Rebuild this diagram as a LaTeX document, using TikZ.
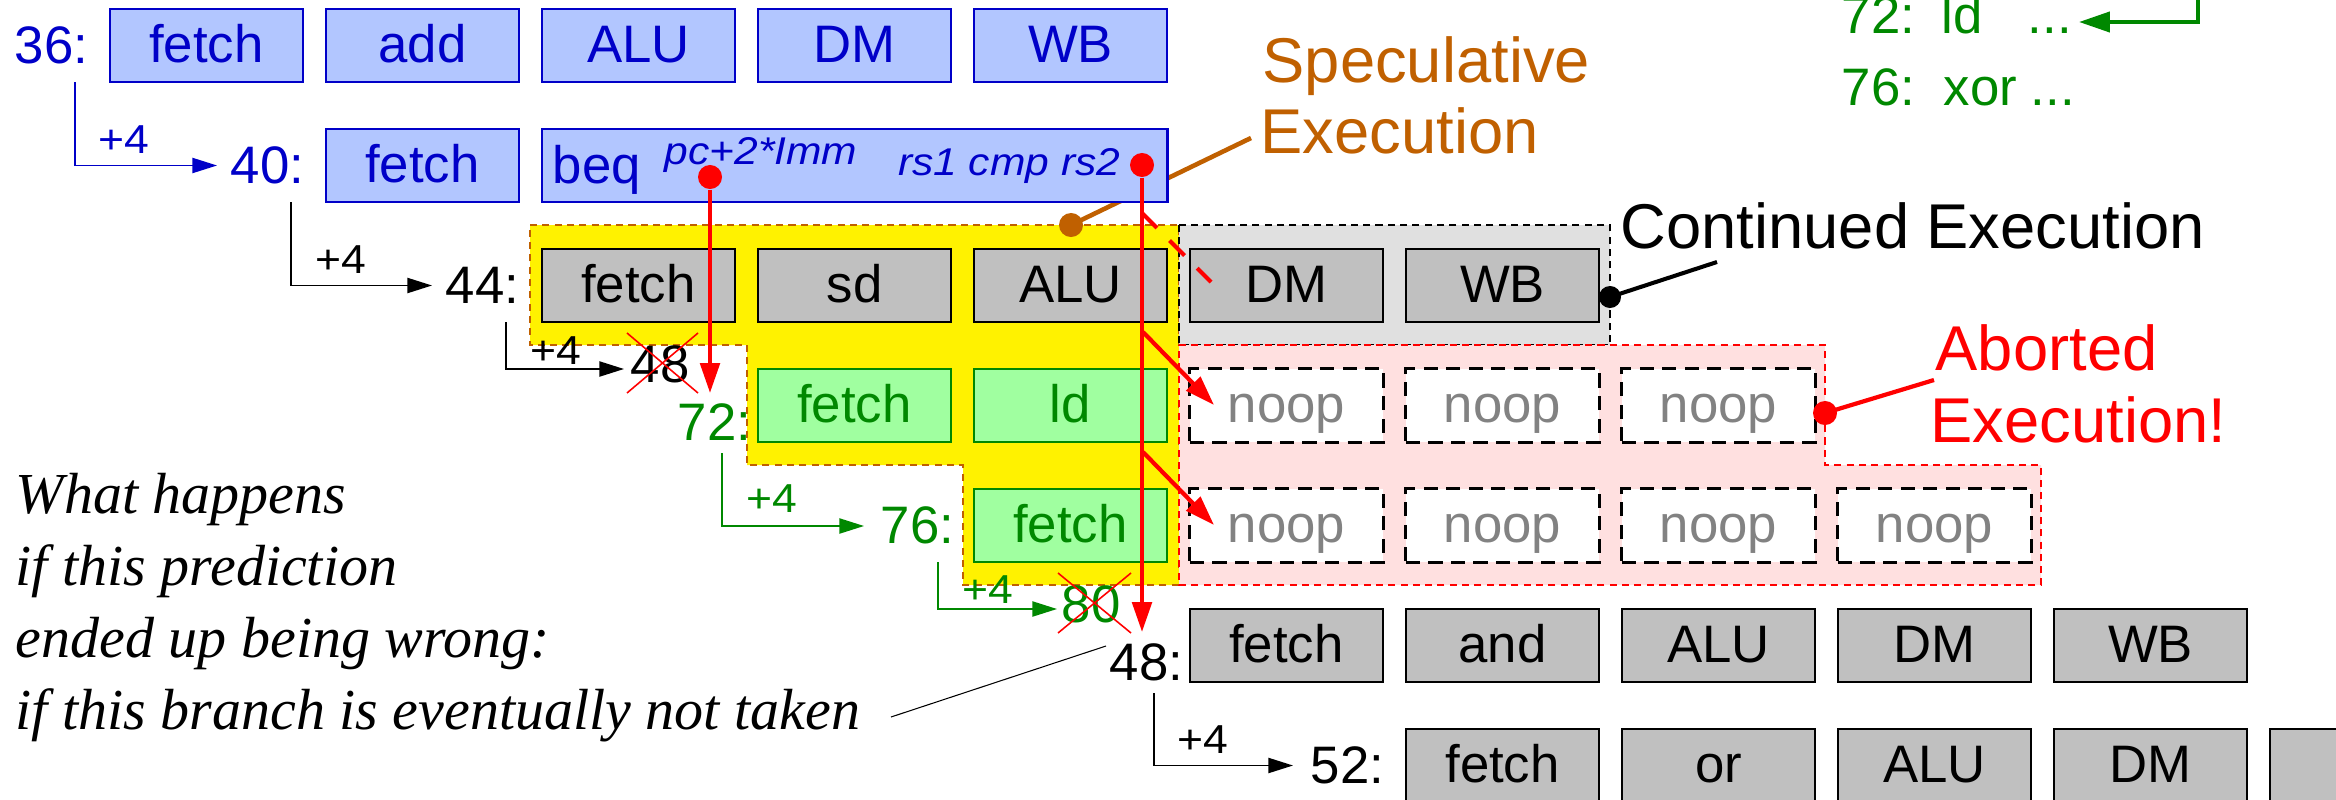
\documentclass[tikz,border=0pt]{standalone}
\usepackage{fontspec}
\setmainfont{Liberation Sans}
\newfontfamily\incfont[FakeStretch=1.1]{Liberation Sans}
\newfontfamily\regfont[FakeStretch=1.1]{Liberation Sans}
\newfontfamily\notefont{Liberation Serif}
\usetikzlibrary{arrows.meta}
\definecolor{bfill}{RGB}{178,198,255}
\definecolor{bdark}{RGB}{0,0,200}
\definecolor{gfill}{RGB}{160,255,160}
\definecolor{gdark}{RGB}{0,136,0}
\definecolor{boxgray}{RGB}{192,192,192}
\definecolor{reggray}{RGB}{224,224,224}
\definecolor{regpink}{RGB}{255,224,224}
\definecolor{orng}{RGB}{192,96,0}
\definecolor{nooptext}{RGB}{130,130,130}
\begin{document}
\begin{tikzpicture}[x=0.01cm,y=-0.01cm,
 stage/.style={draw,line width=0.75pt,minimum width=1.93cm,minimum height=0.73cm,inner sep=0pt,text height=12.75pt,text depth=3pt,font=\fontsize{15}{18}\selectfont},
 bluebox/.style={stage,draw=bdark,fill=bfill,text=bdark},
 graybox/.style={stage,draw=black,fill=boxgray,text=black},
 greenbox/.style={stage,draw=gdark,fill=gfill,text=gdark},
 noopbox/.style={stage,draw=black,fill=white,text=nooptext,line width=0.85pt,dash pattern=on 4pt off 2.4pt},
 addr/.style={anchor=base east,inner sep=0pt,font=\fontsize{15}{18}\selectfont},
 addrw/.style={anchor=base west,inner sep=0pt,font=\fontsize{15}{18}\selectfont},
 inc/.style={anchor=base west,inner sep=0pt,font=\incfont\fontsize{11.5}{13}\selectfont},
 nextarr/.style={line width=0.5pt,-{Triangle[length=7pt,width=4.3pt]}},
 redarr/.style={red,line width=1.2pt,-{Triangle[length=8.5pt,width=5.5pt]}},
 xline/.style={red,line width=0.45pt},
 ann/.style={anchor=base west,inner sep=0pt,font=\fontsize{18}{21.6}\selectfont},
 notetext/.style={anchor=base west,inner sep=0pt,font=\notefont\itshape\fontsize{16.5}{19}\selectfont},
 blob/.style={circle,inner sep=0pt,minimum size=0.24cm},
 regdash/.style={line width=0.45pt,dash pattern=on 2pt off 1.5pt},
 smallit/.style={inner sep=0pt,text=bdark,font=\regfont\itshape\fontsize{11}{13}\selectfont},
]
\useasboundingbox (0,0) rectangle (2336,800);

% regions
\filldraw[fill=yellow,draw=orng,regdash] (530,225) -- (1179,225) -- (1179,585) -- (963,585) -- (963,465) -- (747,465) -- (747,345) -- (530,345) -- cycle;
\filldraw[fill=reggray,draw=black,regdash] (1179,225) rectangle (1610,345);
\filldraw[fill=regpink,draw=red,regdash] (1179,345) -- (1825,345) -- (1825,465) -- (2041,465) -- (2041,585) -- (1179,585) -- cycle;

% speculative pointer (behind beq box)
\node[blob,fill=orng] (odot) at (1071,225) {};
\coordinate (oend) at (1251,138);
\draw[orng,line width=1.3pt] (odot.center) -- (oend);

% row 1
\node[bluebox] (r1a) at (206.5,45.5) {fetch};
\node[bluebox] (r1b) at (422.5,45.5) {add};
\node[bluebox] (r1c) at (638.5,45.5) {ALU};
\node[bluebox] (r1d) at (854.5,45.5) {DM};
\node[bluebox] (r1e) at (1070.5,45.5) {WB};
% row 2
\node[bluebox] (r2b) at (422.5,165.5) {fetch};
\node[bluebox,minimum width=6.25cm] (beq) at (854.5,165.5) {};
\node[addrw,text=bdark] (beqtxt) at (552,183) {beq};
\node[smallit,anchor=base west] (pcimm) at (664,164) {pc+2*Imm};
\node[smallit,anchor=base east] (cmp) at (1121,175) {rs1 cmp rs2};
% row 3
\node[graybox] (r3c) at (638.5,285.5) {fetch};
\node[graybox] (r3d) at (854.5,285.5) {sd};
\node[graybox] (r3e) at (1070.5,285.5) {ALU};
\node[graybox] (r3f) at (1286.5,285.5) {DM};
\node[graybox] (r3g) at (1502.5,285.5) {WB};
% row 4
\node[greenbox] (r4d) at (854.5,405.5) {fetch};
\node[greenbox] (r4e) at (1070.5,405.5) {ld};
\node[noopbox] (r4f) at (1286.5,405.5) {noop};
\node[noopbox] (r4g) at (1502.5,405.5) {noop};
\node[noopbox] (r4h) at (1718.5,405.5) {noop};
% row 5
\node[greenbox] (r5e) at (1070.5,525.5) {fetch};
\node[noopbox] (r5f) at (1286.5,525.5) {noop};
\node[noopbox] (r5g) at (1502.5,525.5) {noop};
\node[noopbox] (r5h) at (1718.5,525.5) {noop};
\node[noopbox] (r5i) at (1934.5,525.5) {noop};
% row 6
\node[graybox] (r6f) at (1286.5,645.5) {fetch};
\node[graybox] (r6g) at (1502.5,645.5) {and};
\node[graybox] (r6h) at (1718.5,645.5) {ALU};
\node[graybox] (r6i) at (1934.5,645.5) {DM};
\node[graybox] (r6j) at (2150.5,645.5) {WB};
% row 7
\node[graybox] (r7g) at (1502.5,765.5) {fetch};
\node[graybox] (r7h) at (1718.5,765.5) {or};
\node[graybox] (r7i) at (1934.5,765.5) {ALU};
\node[graybox] (r7j) at (2150.5,765.5) {DM};
\node[graybox] (r7k) at (2366.5,765.5) {};

% addresses and +4 arrows
\node[addr,text=bdark] (l36) at (89,63) {36:};
\coordinate (s36) at (75,82); \coordinate (e40) at (217,165.5);
\draw[nextarr,bdark] (s36) |- (e40);
\node[inc,text=bdark] (i40) at (98,153) {+4};
\node[addr,text=bdark] (l40) at (305,183) {40:};
\coordinate (s40) at (291,202); \coordinate (e44) at (432,285.5);
\draw[nextarr] (s40) |- (e44);
\node[inc] (i44) at (315,273) {+4};
\node[addr] (l44) at (520,303) {44:};
\coordinate (s44) at (506,322); \coordinate (e48) at (624,369);
\draw[nextarr] (s44) |- (e48);
\node[inc] (i48) at (530,364) {+4};
\node[addrw] (l48a) at (630,382) {48};
\draw[xline] (627,333) -- (698,393);
\draw[xline] (698,333) -- (627,393);
\node[addr,text=gdark] (l72) at (752,440) {72:};
\coordinate (s72) at (722,453); \coordinate (e76) at (864,526);
\draw[nextarr,gdark] (s72) |- (e76);
\node[inc,text=gdark] (i76) at (746,512) {+4};
\node[addr,text=gdark] (l76) at (955,543) {76:};
\coordinate (s76) at (938,562); \coordinate (e80) at (1057,609);
\draw[nextarr,gdark] (s76) |- (e80);
\node[inc,text=gdark] (i80) at (962,603) {+4};
\node[addrw,text=gdark] (l80) at (1061,622) {80};
\draw[xline] (1058,573) -- (1131,633);
\draw[xline] (1131,573) -- (1058,633);
\node[addr] (l48b) at (1184,680) {48:};
\coordinate (s48) at (1154,693); \coordinate (e52) at (1293,765.5);
\draw[nextarr] (s48) |- (e52);
\node[inc] (i52) at (1177,753) {+4};
\node[addr] (l52) at (1385,783) {52:};

% red branch arrows
\node[blob,fill=red] (pcdot) at (710,177) {};
\node[blob,fill=red] (rsdot) at (1142,165) {};
\coordinate (t72) at (710,393);
\draw[redarr] (pcdot) -- (t72);
\coordinate (t48) at (1142,632);
\draw[redarr] (rsdot) -- (t48);
\coordinate (b1) at (1143,332); \coordinate (n1) at (1214,405);
\draw[redarr] (b1) -- (n1);
\coordinate (b2) at (1143,452); \coordinate (n2) at (1214,525);
\draw[redarr] (b2) -- (n2);
\coordinate (d1) at (1142,213); \coordinate (d2) at (1211,282);
\draw[red,line width=1.2pt,dash pattern=on 6pt off 5.1pt] (d1) -- (d2);

% annotations
\node[ann,text=orng] (spec1) at (1262,82) {Speculative};
\node[ann,text=orng] (spec2) at (1260,153) {Execution};
\node[ann] (cont) at (1620,248) {Continued Execution};
\node[blob,fill=black,minimum size=0.22cm] (cdot) at (1610,297) {};
\coordinate (cend) at (1717,262);
\draw[line width=1.15pt] (cdot.center) -- (cend);
\node[ann,text=red] (ab1) at (1935,370) {Aborted};
\node[ann,text=red] (ab2) at (1930,442) {Execution!};
\node[blob,fill=red] (adot) at (1825,413) {};
\coordinate (aend) at (1934,380);
\draw[red,line width=1.2pt] (adot.center) -- (aend);

% top right listing
\node[addrw,text=gdark] (t72a) at (1841,33) {72:};
\node[addrw,text=gdark] (t72b) at (1941,33) {ld};
\node[addrw,text=gdark] (t72c) at (2027,33) {...};
\node[addrw,text=gdark] (t76a) at (1841,105) {76:};
\node[addrw,text=gdark] (t76b) at (1943,105) {xor};
\node[addrw,text=gdark] (t76c) at (2030,105) {...};
\coordinate (ga) at (2198,-10); \coordinate (gb) at (2079,22);
\draw[gdark,line width=1.15pt,-{Triangle[length=8.8pt,width=5.7pt]}] (ga) |- (gb);

% question text
\node[notetext] (q1) at (15,513) {What happens};
\node[notetext] (q2) at (15,585) {if this prediction};
\node[notetext] (q3) at (15,657) {ended up being wrong:};
\node[notetext] (q4) at (15,729) {if this branch is eventually not taken};
\coordinate (qa) at (891,717); \coordinate (qb) at (1106,646);
\draw[line width=0.3pt] (qa) -- (qb);
\end{tikzpicture}
\end{document}
